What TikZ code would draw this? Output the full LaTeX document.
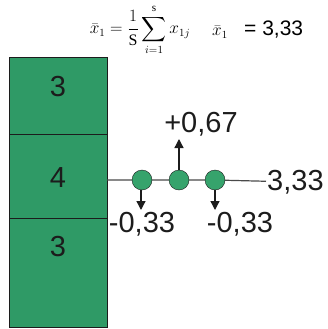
\documentclass[tikz,border=0pt]{standalone}
\usepackage{amsmath}
\usepackage{fontspec}
\setmainfont{Liberation Serif}
\setsansfont{Liberation Sans}
\usetikzlibrary{arrows.meta,positioning,calc}
\definecolor{Ink}{HTML}{1C1C1C}
\definecolor{CellGreen}{HTML}{2F9A66}
\definecolor{DotGreen}{HTML}{36A36C}
\definecolor{AxisGrey}{HTML}{4A4A4A}

\begin{document}
\begin{tikzpicture}[x=1pt,y=-1pt,
  cell/.style={draw=Ink,fill=CellGreen,minimum width=98pt,inner sep=0pt,outer sep=0pt},
  num/.style={font=\sffamily\fontsize{29}{29}\selectfont,text=Ink,inner sep=1pt},
  dot/.style={circle,draw=Ink,fill=DotGreen,minimum size=20pt,inner sep=0pt},
  arr/.style={-{Triangle[length=9pt,width=9pt]},line width=1.3pt,color=Ink},
  axis/.style={line width=1.2pt,color=AxisGrey}]
\useasboundingbox (0,0) rectangle (328,329);
% mean formula
\node[inner sep=0pt,font=\fontsize{16}{16}\selectfont] (formula) at (140,30)
  {$\displaystyle \bar{x}_1=\frac{1}{\mathrm{S}}\sum_{i=1}^{\mathrm{s}} x_{1j}$};
\node[inner sep=0pt,anchor=west,font=\fontsize{16}{16}\selectfont] (xbar) at (212,32) {$\bar{x}_1$};
\node[inner sep=0pt,anchor=west,font=\sffamily\fontsize{21}{21}\selectfont] (result) at (244,30) {= 3,33};
% column of values
\node[cell,minimum height=77pt,anchor=north] (c1) at (58,57) {};
\node[cell,minimum height=84pt,below=0pt of c1] (c2) {};
\node[cell,minimum height=109pt,below=0pt of c2] (c3) {};
\node[num] (v1) at ($(c1.north)+(0,30)$) {3};
\node[num] (v2) at ($(c2.north)+(0,44)$) {4};
\node[num] (v3) at ($(c3.north)+(0,29)$) {3};
% deviations from the mean
\node[dot] (m1) at (142,180) {};
\node[dot] (m2) at (179,180) {};
\node[dot] (m3) at (215,180) {};
\node[num,anchor=west] (mean) at (266,182) {3,33};
\draw[axis] (c2.east |- m1) -- (m1) -- (m2) -- (m3) -- (mean);
\node[num] (d2) at (201,124) {+0,67};
\node[num] (d1) at (142,224) {-0,33};
\node[num] (d3) at (240,224) {-0,33};
\coordinate (t2) at (179,139);
\coordinate (t1) at (141,210);
\coordinate (t3) at (215,210);
\draw[arr] (m2) -- (t2);
\draw[arr] (m1.south -| t1) -- (t1);
\draw[arr] (m3) -- (t3);
\end{tikzpicture}
\end{document}
